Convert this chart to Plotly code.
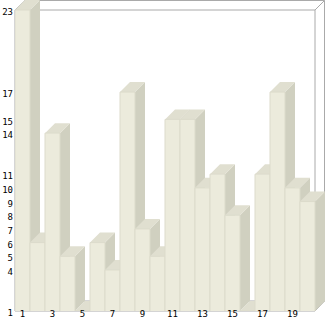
import plotly.graph_objects as go

# ---- data ----
categories = list(range(1, 21))
values = [23, 6, 14, 5, 1, 6, 4, 17, 7, 5, 15, 15, 10, 11, 8, 1, 11, 17, 10, 9]
x_tick_labels = [str(c) for c in categories[::2]]
y_tick_values = sorted(set(values))

# ---- style ----
FRONT = "#ecebdc"
SIDE = "#d0d0c0"
TOP = "#e0dfd0"
EDGE = "#dcdbcb"
FRAME = "#aaaaaa"

W, H = 326, 321
ML, MR, MT, MB = 15, 1, 0, 10
PW, PH = W - ML - MR, H - MT - MB  # plot area in px

DEPTH_PX = 10
y_floor = 1
y_top = max(values)
x_lo = categories[0] - 0.5
x_hi_front = categories[-1] + 0.5
px_per_x = (PW - DEPTH_PX) / (x_hi_front - x_lo)
px_per_y = (PH - DEPTH_PX) / (y_top - y_floor)
DX = DEPTH_PX / px_per_x
DY = DEPTH_PX / px_per_y
x_range = [x_lo, x_hi_front + DX]
y_range = [y_floor, y_top + DY]

fig = go.Figure()
fig.add_trace(go.Bar(
    x=categories, y=values, width=1,
    marker=dict(color=FRONT, line=dict(color=EDGE, width=1)),
    hoverinfo="x+y",
))

shapes = []

# frame (paper coords)
fx = (x_hi_front - x_lo) / (x_range[1] - x_lo)
fy = (y_top - y_floor) / (y_range[1] - y_floor)
bx = 1 - fx
by = 1 - fy
top_y = 1 - 0.5 / PH
right_x = 1 - 0.5 / PW
frame_lines = [
    (0, 0, fx, 0), (0, 0, 0, fy), (0, fy, fx, fy), (fx, 0, fx, fy),
    (bx, by, right_x, by), (bx, by, bx, top_y), (bx, top_y, right_x, top_y), (right_x, by, right_x, top_y),
    (0, fy, bx, top_y), (fx, fy, right_x, top_y), (fx, 0, right_x, by), (0, 0, bx, by),
]
for x0, y0, x1, y1 in frame_lines:
    shapes.append(dict(type="line", xref="paper", yref="paper", x0=x0, y0=y0, x1=x1, y1=y1,
                       line=dict(color=FRAME, width=1), layer="below"))

# side faces
for c, v in zip(categories, values):
    r = c + 0.5
    path = f"M {r},{y_floor} L {r+DX},{y_floor+DY} L {r+DX},{v+DY} L {r},{v} Z"
    shapes.append(dict(type="path", xref="x", yref="y", path=path,
                       fillcolor=SIDE, line=dict(width=0), layer="below"))
# top faces
for c, v in zip(categories, values):
    l, r = c - 0.5, c + 0.5
    path = f"M {l},{v} L {r},{v} L {r+DX},{v+DY} L {l+DX},{v+DY} Z"
    shapes.append(dict(type="path", xref="x", yref="y", path=path,
                       fillcolor=TOP, line=dict(width=0), layer="below"))

fig.update_layout(
    width=W, height=H,
    margin=dict(l=ML, r=MR, t=MT, b=MB, pad=0),
    paper_bgcolor="white", plot_bgcolor="white",
    showlegend=False,
    shapes=shapes,
    font=dict(family="DejaVu Sans Mono", size=9, color="black"),
    xaxis=dict(range=x_range, tickvals=categories[::2], ticktext=x_tick_labels,
               showgrid=False, zeroline=False, showline=False, ticks="",
               automargin=False, fixedrange=True, ticklabelstandoff=-4),
    yaxis=dict(range=y_range, tickvals=y_tick_values,
               showgrid=False, zeroline=False, showline=False, ticks="",
               automargin=False, fixedrange=True, ticklabelshift=2,
               ticklabelstandoff=1),
)

fig.write_html("out.html")
